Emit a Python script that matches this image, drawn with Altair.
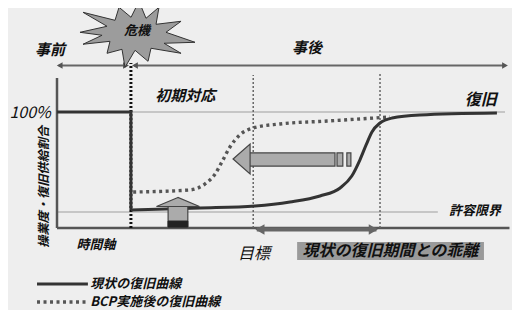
import altair as alt
import pandas as pd

# ---------------- data (time 0-100, operation level in % of normal) ----------------
pre_t = [0, 16.5, 16.5]
pre_v = [100, 100, 15.5]

cur_t = [16.5, 31.9, 44.2, 52.0, 58.7, 63.2, 65.8, 67.6, 69.0, 70.3, 72.1, 74.8, 81.0, 98.2]
cur_v = [15.5, 17.2, 19.0, 22.4, 27.6, 34.5, 44.8, 58.6, 71.6, 82.8, 90.5, 94.8, 97.4, 99.1]

bcp_t = [17.0, 29.7, 33.0, 35.3, 36.8, 38.6, 40.8, 43.75, 49.8, 60.3, 74.3]
bcp_v = [31.0, 32.8, 37.9, 46.6, 56.9, 69.8, 80.2, 86.2, 89.7, 92.2, 95.7]

crisis_t = 16.5
target_t = 43.8
recover_t = 72.1
limit_v = 13.8
full_v = 100

# ---------------- layout helpers ----------------
W, H = 504, 302
X_PX0, X_PX_PER = 49, 4.48
Y_PX0, Y_PX_PER = 220, 1.16
xs = alt.Scale(domain=[-X_PX0 / X_PX_PER, (W - X_PX0) / X_PX_PER], nice=False, zero=False)
ys = alt.Scale(domain=[(Y_PX0 - H) / Y_PX_PER, Y_PX0 / Y_PX_PER], nice=False, zero=False)
FONT = "Noto Sans CJK JP"


def X(f="t"):
    return alt.X(f"{f}:Q", scale=xs, axis=None)


def Y(f="v"):
    return alt.Y(f"{f}:Q", scale=ys, axis=None)


def hrule(rows, **kw):
    df = pd.DataFrame(rows, columns=["t", "t2", "v"])
    return alt.Chart(df).mark_rule(**kw).encode(x=X(), x2="t2:Q", y=Y())


def vrule(rows, **kw):
    df = pd.DataFrame(rows, columns=["t", "v", "v2"])
    return alt.Chart(df).mark_rule(**kw).encode(x=X(), y=Y(), y2="v2:Q")


def rect(rows, **kw):
    df = pd.DataFrame(rows, columns=["t", "t2", "v", "v2"])
    return alt.Chart(df).mark_rect(**kw).encode(x=X(), x2="t2:Q", y=Y(), y2="v2:Q")


def pts(rows, **kw):
    df = pd.DataFrame(rows, columns=["t", "v"])
    return alt.Chart(df).mark_point(**kw).encode(x=X(), y=Y())


def text(rows, size, bold=True, italic=True, align="center", angle=0, color="#111"):
    df = pd.DataFrame(rows, columns=["t", "v", "label"])
    kw = dict(font=FONT, fontSize=size, align=align, baseline="middle", color=color)
    if bold:
        kw["fontWeight"] = "bold"
    if italic:
        kw["fontStyle"] = "italic"
    if angle:
        kw["angle"] = angle
    return alt.Chart(df).mark_text(**kw).encode(x=X(), y=Y(), text="label:N")


def path(points, scale):
    return "M " + " L ".join(f"{x / scale:.3f} {y / scale:.3f}" for x, y in points) + " Z"


layers = []

# reference lines
layers.append(hrule([[0, 100, full_v], [0, 85.0, limit_v]], color="#b8b8b8", strokeWidth=1.5))

# axes
layers.append(vrule([[0, 0, 129.3]], color="#555", strokeWidth=2.5))
layers.append(hrule([[0, 101, 0]], color="#555", strokeWidth=2.5))

# vertical dotted markers
layers.append(vrule([[crisis_t, 0, 142.2]], color="#111", strokeWidth=3, strokeDash=[2, 2]))
layers.append(vrule([[target_t, 0, 131.9], [recover_t, 0, 134.5]], color="#666", strokeWidth=1.5, strokeDash=[2, 2]))

# top arrows (事前 / 事後)
layers.append(hrule([[0.4, 15.6, 140.1], [17.2, 100.0, 140.1]], color="#666", strokeWidth=2))
layers.append(pts([[0.6, 140.1], [17.4, 140.1]], shape="triangle-left", filled=True, color="#555", size=45, opacity=1))
layers.append(pts([[15.4, 140.1], [100.0, 140.1]], shape="triangle-right", filled=True, color="#555", size=45, opacity=1))

# curves
df_pre = pd.DataFrame({"t": pre_t, "v": pre_v})
df_cur = pd.DataFrame({"t": cur_t, "v": cur_v})
df_bcp = pd.DataFrame({"t": bcp_t, "v": bcp_v})
layers.append(alt.Chart(df_pre).mark_line(color="#333", strokeWidth=3).encode(x=X(), y=Y()))
layers.append(alt.Chart(df_bcp).mark_line(color="#555", strokeWidth=3.4, strokeDash=[3, 3.5], interpolate="monotone").encode(x=X(), y=Y()))
layers.append(alt.Chart(df_cur).mark_line(color="#333", strokeWidth=3, interpolate="monotone").encode(x=X(), y=Y()))

# big left arrow (shortening of recovery period)
layers.append(rect([[42.6, 62.05, 64.7, 53.4], [62.5, 63.8, 64.7, 53.4], [64.7, 65.6, 64.7, 53.4]],
                   fill="#ababab", stroke="#444", strokeWidth=1.2))
head_left = path([(-8.5, 0), (8.5, -15), (8.5, 15)], 15)
layers.append(pts([[41.2, 59.5]], shape=head_left, size=900, filled=True, fill="#ababab", stroke="#444",
                  strokeWidth=1.2, opacity=1))

# up arrow (raising the level)
layers.append(rect([[24.8, 29.2, 19.0, 0.9]], fill="#ababab", stroke="#444", strokeWidth=1.2))
layers.append(rect([[24.8, 29.2, 6.0, 0.9]], fill="#222", stroke="#222", strokeWidth=1))
head_up = path([(0, -4.5), (-21.5, 4.5), (21.5, 4.5)], 21.5)
layers.append(pts([[27.0, 22.4]], shape=head_up, size=1849, filled=True, fill="#ababab", stroke="#444",
                  strokeWidth=1.2, opacity=1))

# bottom double arrow (目標 -> 現状)
layers.append(hrule([[44.6, 71.3, -1.3]], color="#666", strokeWidth=4))
layers.append(pts([[45.3, -1.3]], shape="triangle-left", filled=True, color="#666", size=110, opacity=1))
layers.append(pts([[70.6, -1.3]], shape="triangle-right", filled=True, color="#666", size=110, opacity=1))

# crisis burst
star = [(-57, -2), (-30, -8), (-54, -22), (-22, -14), (-18, -27), (-6, -17), (2, -33), (9, -16),
        (22, -27), (19, -10), (44, -13), (29, -2), (58, 8), (27, 9), (44, 19), (14, 14), (11, 27),
        (-2, 16), (-12, 33), (-15, 15), (-30, 19), (-27, 7), (-54, 10), (-35, 1)]
layers.append(pts([[17.86, 167.0]], shape=path(star, 58), size=13456, filled=True, fill="#9c9c9c",
                  stroke="#333", strokeWidth=1, opacity=1))

# gap label box
layers.append(rect([[53.6, 95.3, -12.1, -27.6]], fill="#9a9a9a"))

# legend lines
layers.append(hrule([[-4.46, 6.9, -48.3]], color="#333", strokeWidth=3))
layers.append(hrule([[-4.46, 6.9, -63.8]], color="#555", strokeWidth=3.4, strokeDash=[3, 3.5]))

# texts
layers.append(text([[17.86, 170.0, "危機"]], 13))
layers.append(text([[-1.56, 153.4, "事前"], [55.8, 155.2, "事後"], [28.6, 113.8, "初期対応"]], 15))
layers.append(text([[94.6, 110.3, "復旧"]], 16))
layers.append(text([[93.3, 14.7, "許容限界"], [8.7, -14.7, "時間軸"]], 13))
layers.append(text([[44.0, -22.4, "目標"]], 16, bold=False))
layers.append(text([[74.4, -19.8, "現状の復旧期間との乖離"]], 16))
layers.append(text([[-6.0, 99.1, "100%"]], 16, bold=False))
layers.append(text([[-2.9, 35.5, "操業度・復旧供給割合"]], 12.2, angle=270))
layers.append(text([[7.4, -48.3, "現状の復旧曲線"], [7.4, -63.8, "BCP実施後の復旧曲線"]], 13, align="left"))

chart = (
    alt.layer(*layers)
    .properties(width=W, height=H, background="#eeeeee", padding=0, autosize=alt.AutoSizeParams(type="none"))
    .configure_view(stroke=None)
)

chart.save("out.html", embed_options={"renderer": "svg", "actions": False})
